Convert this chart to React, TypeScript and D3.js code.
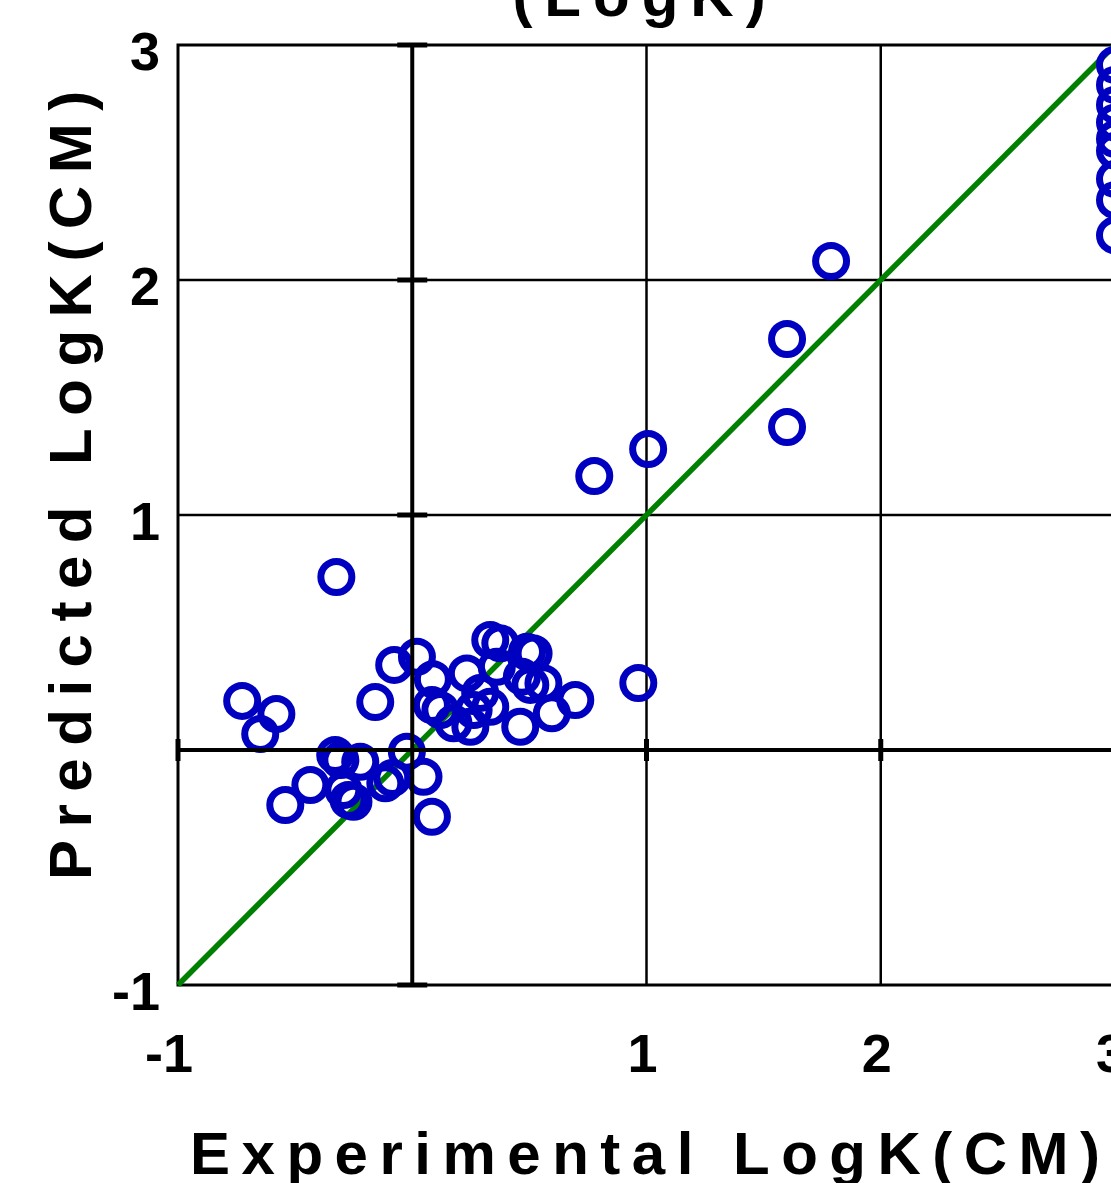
import React from "react";
import * as d3 from "d3";

const expX: number[] = [
  -0.726, -0.58, -0.649, -0.158, -0.077, 0.02, 0.088, 0.084, 0.12, 0.233, 0.333, 0.376, 0.518, 0.49, 0.361,
  0.468, 0.56, 0.504, 0.696, 0.596, 0.461, 0.333, 0.262, 0.248, 0.176, 0.29, 0.965,
  -0.023, -0.542, -0.435, -0.329, -0.307, -0.222, -0.272, -0.251, -0.294, -0.115, -0.085, 0.048, 0.084,
  -0.324, 0.777, 1.007, 1.6, 1.6, 1.788,
  3.0, 3.0, 3.0, 3.0, 3.0, 3.0, 3.0, 3.0, 3.0,
];
const predY: number[] = [
  0.209, 0.153, 0.068, 0.204, 0.362, 0.397, 0.301, 0.191, 0.17, 0.326, 0.468, 0.454, 0.411, 0.418, 0.354,
  0.312, 0.284, 0.277, 0.213, 0.156, 0.099, 0.184, 0.17, 0.099, 0.114, 0.243, 0.285,
  -0.007, -0.234, -0.149, -0.021, -0.043, -0.05, -0.213, -0.22, -0.17, -0.142, -0.119, -0.114, -0.284,
  0.736, 1.166, 1.281, 1.749, 1.374, 2.081,
  2.915, 2.83, 2.745, 2.67, 2.6, 2.55, 2.43, 2.34, 2.19,
];
const xTickLabels: number[] = [-1, 1, 2, 3];
const yTickLabels: number[] = [-1, 1, 2, 3];
const gridVals: number[] = [1, 2];
const axisTicks: number[] = [-1, 1, 2, 3];

const FONT = "'Liberation Sans', Arial, sans-serif";

export default function App() {
  const x = d3.scaleLinear().domain([-1, 3]).range([178, 1115]);
  const y = d3.scaleLinear().domain([-1, 3]).range([985, 45]);
  const diag = d3.line<number>().x((d) => x(d)).y((d) => y(d));
  const pts = expX.map((v, i) => [v, predY[i]] as [number, number]);

  return (
    <svg
      width={1111}
      height={1183}
      style={{ position: "absolute", left: 0, top: 0, background: "#fff" }}
    >
      <rect x={0} y={0} width={1111} height={1183} fill="#fff" />
      <text
        x={645}
        y={16}
        textAnchor="middle"
        fontFamily={FONT}
        fontWeight="bold"
        fontSize={60}
        letterSpacing={12}
      >
        (LogK)
      </text>
      {gridVals.map((g) => (
        <line key={"gx" + g} x1={x(g)} x2={x(g)} y1={y(3)} y2={y(-1)} stroke="#000" strokeWidth={2.5} />
      ))}
      {gridVals.map((g) => (
        <line key={"gy" + g} x1={x(-1)} x2={x(3)} y1={y(g)} y2={y(g)} stroke="#000" strokeWidth={2.5} />
      ))}
      <rect
        x={x(-1)}
        y={y(3)}
        width={x(3) - x(-1)}
        height={y(-1) - y(3)}
        fill="none"
        stroke="#000"
        strokeWidth={3}
      />
      <path d={diag([-1, 3]) || ""} stroke="#008000" strokeWidth={5.5} fill="none" />
      {pts.map((p, i) => (
        <circle
          key={i}
          cx={x(p[0])}
          cy={y(p[1])}
          r={15.5}
          fill="none"
          stroke="#0000c0"
          strokeWidth={7}
        />
      ))}
      <line x1={x(0)} x2={x(0)} y1={y(3)} y2={y(-1)} stroke="#000" strokeWidth={4} />
      <line x1={x(-1)} x2={x(3)} y1={y(0)} y2={y(0)} stroke="#000" strokeWidth={4} />
      {axisTicks.map((t) => (
        <line key={"ty" + t} x1={x(0) - 15} x2={x(0) + 15} y1={y(t)} y2={y(t)} stroke="#000" strokeWidth={5} />
      ))}
      {axisTicks.map((t) => (
        <line key={"tx" + t} x1={x(t)} x2={x(t)} y1={y(0) - 11} y2={y(0) + 11} stroke="#000" strokeWidth={5} />
      ))}
      {yTickLabels.map((t) => (
        <text
          key={"yl" + t}
          x={160}
          y={y(t) + 25}
          textAnchor="end"
          fontFamily={FONT}
          fontWeight="bold"
          fontSize={54}
        >
          {t}
        </text>
      ))}
      {xTickLabels.map((t) => (
        <text
          key={"xl" + t}
          x={x(t) - (t < 0 ? 9 : 4)}
          y={1072}
          textAnchor="middle"
          fontFamily={FONT}
          fontWeight="bold"
          fontSize={54}
        >
          {t}
        </text>
      ))}
      <text
        x={190}
        y={1174}
        fontFamily={FONT}
        fontWeight="bold"
        fontSize={60}
        letterSpacing={11.5}
      >
        Experimental LogK(CM)
      </text>
      <text
        transform="translate(91,880) rotate(-90)"
        x={0}
        y={0}
        fontFamily={FONT}
        fontWeight="bold"
        fontSize={60}
        letterSpacing={12.5}
      >
        Predicted LogK(CM)
      </text>
    </svg>
  );
}
